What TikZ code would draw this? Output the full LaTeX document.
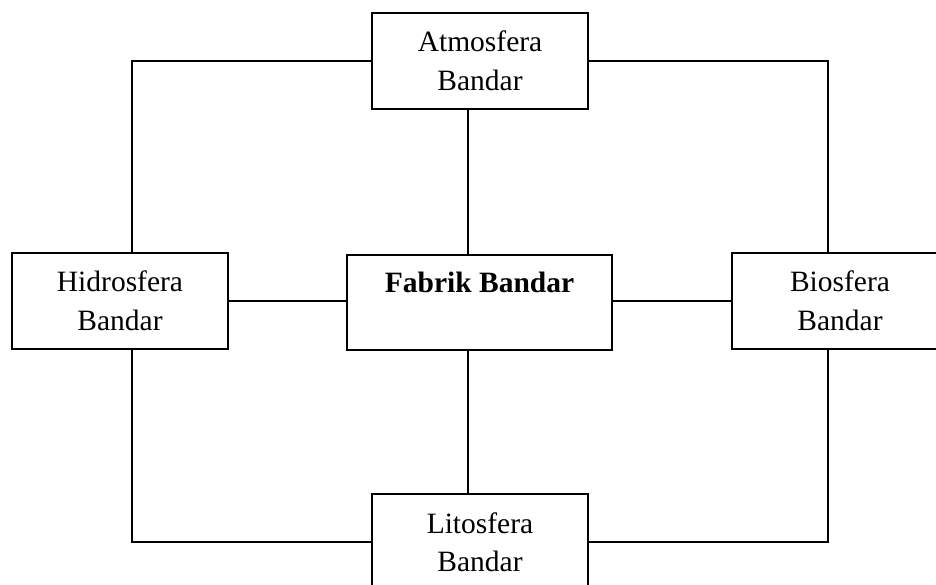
\documentclass[tikz,border=0pt]{standalone}
\usepackage{fontspec}
\setmainfont{Liberation Serif}
\usetikzlibrary{calc}
\tikzset{
  sphere/.style={draw=black, line width=1.8pt, inner sep=0pt, minimum width=216pt,
    minimum height=96pt, align=center, font=\fontsize{29.5}{38.5}\selectfont},
  centerbox/.style={draw=black, line width=1.8pt, inner sep=0pt, minimum width=265pt,
    text height=37.7pt, text depth=57.3pt, font=\fontsize{29.5}{38.5}\selectfont\bfseries},
  link/.style={draw=black, line width=1.4pt}
}
\begin{document}
\begin{tikzpicture}[x=1pt, y=-1pt]
\clip (0,0) rectangle (936,584);
\fill[white] (0,0) rectangle (936,584);
\node[sphere] (atm) at (480,61) {Atmosfera\\Bandar};
\node[sphere] (hid) at (120,301) {Hidrosfera\\Bandar};
\node[sphere] (bio) at (840,301) {Biosfera\\Bandar};
\node[sphere] (lit) at (480,542) {Litosfera\\Bandar};
\node[centerbox, anchor=north] (fab) at (479.5,254) {Fabrik Bandar};
\draw[link] (atm.west) -| ($(hid.north)+(12,0)$);
\draw[link] (atm.east) -| ($(bio.north)+(-12,0)$);
\draw[link] ($(atm.south)+(-12,0)$) -- ($(fab.north)+(-11.5,0)$);
\draw[link] ($(fab.south)+(-11.5,0)$) -- ($(lit.north)+(-12,0)$);
\draw[link] (hid.east) -- (hid.east -| fab.west);
\draw[link] (bio.west -| fab.east) -- (bio.west);
\draw[link] ($(hid.south)+(12,0)$) |- (lit.west);
\draw[link] ($(bio.south)+(-12,0)$) |- (lit.east);
\end{tikzpicture}
\end{document}
